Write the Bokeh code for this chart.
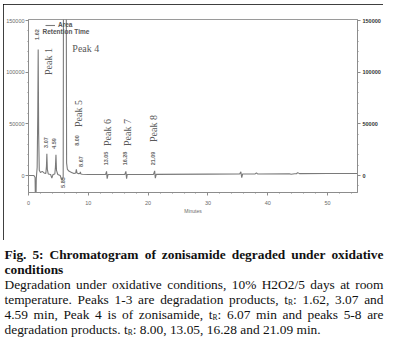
import math
from bokeh.plotting import figure
from bokeh.models import (Range1d, LinearAxis, Label, FixedTicker,
                          NumeralTickFormatter, ColumnDataSource, Legend, LegendItem)
from bokeh.embed import file_html
from bokeh.resources import INLINE
from bokeh.core.properties import value

# ---------------- data ----------------
trace_points = [
    (0.0, 0), (0.9, 0), (1.1, -2000), (1.2, -45000), (1.3, -3000), (1.45, 8000),
    (1.55, 60000), (1.62, 122000), (1.7, 40000), (1.8, 5000), (2.0, 3000),
    (2.3, 4000), (2.6, 2500), (2.9, 2000), (3.0, 9000), (3.07, 21000),
    (3.15, 6000), (3.3, 1500), (3.7, 1000), (3.9, -2500), (4.1, 1000),
    (4.4, 1500), (4.5, 8000), (4.59, 20000), (4.68, 5000), (4.9, 1000),
    (5.3, 0), (5.5, -3500), (5.65, -4500), (5.8, -1000), (5.88, 300000),
    (6.07, 600000), (6.27, 300000), (6.37, 12000), (6.5, 6000), (6.8, 4000),
    (7.2, 3000), (7.6, 2000), (7.9, 2500), (8.0, 6000), (8.1, 2500),
    (8.4, 1800), (8.6, 2000), (8.67, 3500), (8.75, 1500), (9.0, 1200),
    (10.0, 1000), (12.9, 1000), (13.05, 4000), (13.15, -3000), (13.3, 1000),
    (16.1, 1000), (16.28, 4000), (16.4, -3000), (16.5, 1000), (20.9, 1100),
    (21.09, 4500), (21.2, -2500), (21.35, 1100), (30.0, 1300), (35.3, 1500),
    (35.5, 3500), (35.65, -2000), (35.8, 1500), (36.0, 1500), (37.9, 1500),
    (38.1, 2500), (38.3, 1500), (43.6, 1700), (43.9, 1200), (44.5, 1700),
    (44.8, 1700), (45.0, 2800), (45.3, 1800), (50.0, 1900), (55.0, 2000),
]
trace_t = [pt[0] for pt in trace_points]
trace_v = [pt[1] for pt in trace_points]

rt_times = [1.62, 3.07, 4.59, 5.83, 8.00, 8.67, 13.05, 16.28, 21.09]
rt_label_x = [1.5, 3.0, 4.33, 5.83, 8.17, 8.83, 13.0, 16.17, 20.83]
rt_label_y = [136400, 31900, 31000, -6800, 33900, 13500, 16500, 16500, 16500]

peak_v_names = ["Peak 1", "Peak 5", "Peak 6", "Peak 7", "Peak 8"]
peak_v_x = [3.33, 8.42, 13.17, 16.5, 20.83]
peak_v_y = [110300, 60000, 41600, 41600, 45500]
peak_h_names = ["Peak 4"]
peak_h_x = [7.33]
peak_h_y = [122900]

x_ticks = [0, 10, 20, 30, 40, 50]
y_ticks = [0, 50000, 100000, 150000]

caption_lines = [
    ("b", True, "Fig. 5: Chromatogram of zonisamide degraded under oxidative"),
    ("b", False, "conditions"),
    ("n", True, "Degradation under oxidative conditions, 10% H2O2/5 days at room"),
    ("n", True, "temperature. Peaks 1-3 are degradation products, t_R: 1.62, 3.07 and"),
    ("n", True, "4.59 min, Peak 4 is of zonisamide, t_R: 6.07 min and peaks 5-8 are"),
    ("n", False, "degradation products. t_R: 8.00, 13.05, 16.28 and 21.09 min."),
]

# ---------------- chart figure ----------------
p = figure(width=380, height=236, output_backend="svg", toolbar_location=None,
           x_range=Range1d(0, 55), y_range=Range1d(-16450, 150970),
           min_border_left=25, min_border_right=25, min_border_top=15,
           min_border_bottom=48, background_fill_color="white",
           border_fill_color="white", margin=(4, 0, 0, 3), sizing_mode="fixed",
           styles={"outline": "1.4px solid #000000", "outline-offset": "-1.4px"})
p.xgrid.visible = False
p.ygrid.visible = False
p.outline_line_color = "#9a9a9a"
p.outline_line_width = 1

AX = "#8c8c8c"
def style_axis(ax, label_color="#6a6a6a", bold=False):
    ax.axis_line_color = AX
    ax.major_tick_line_color = AX
    ax.minor_tick_line_color = AX
    ax.major_tick_out = 3
    ax.major_tick_in = 0
    ax.minor_tick_out = 1
    ax.minor_tick_in = 0
    ax.major_label_text_font = "Liberation Sans"
    ax.major_label_text_font_size = "5.5px"
    ax.major_label_text_color = label_color
    ax.major_label_text_font_style = "bold" if bold else "normal"
    ax.major_label_standoff = 1

xax = p.xaxis[0]
xax.ticker = FixedTicker(ticks=x_ticks, minor_ticks=list(range(0, 56, 2)))
style_axis(xax)
xax.major_label_standoff = 5
xax.axis_label = "Minutes"
xax.axis_label_text_font = "Liberation Sans"
xax.axis_label_text_font_size = "5px"
xax.axis_label_text_font_style = "normal"
xax.axis_label_text_color = "#6a6a6a"
xax.axis_label_standoff = 0

yax = p.yaxis[0]
yax.ticker = FixedTicker(ticks=y_ticks, minor_ticks=list(range(-10000, 151000, 10000)))
yax.formatter = NumeralTickFormatter(format="0")
style_axis(yax)

rax = LinearAxis(ticker=FixedTicker(ticks=y_ticks, minor_ticks=list(range(-10000, 151000, 10000))),
                 formatter=NumeralTickFormatter(format="0"))
style_axis(rax, label_color="#303030", bold=True)
rax.major_label_standoff = 2
p.add_layout(rax, "right")

# chromatogram trace
src = ColumnDataSource(dict(t=trace_t, v=trace_v))
trace_r = p.line("t", "v", source=src, line_color="#7a7a7a", line_width=1.1)

# retention time labels
rt_src = ColumnDataSource(dict(x=rt_label_x, y=rt_label_y,
                               txt=["%.2f" % t for t in rt_times]))
p.text("x", "y", text="txt", source=rt_src, angle=math.pi / 2,
       text_align="center", text_baseline="middle",
       text_font=value("Liberation Sans"), text_font_size="5.5px",
       text_font_style="bold", text_color="#6a6a6a")

# peak name labels
pv_src = ColumnDataSource(dict(x=peak_v_x, y=peak_v_y, txt=peak_v_names))
p.text("x", "y", text="txt", source=pv_src, angle=math.pi / 2,
       text_align="center", text_baseline="middle",
       text_font=value("Liberation Serif"), text_font_size="10px",
       text_color="#5a5a5a")
ph_src = ColumnDataSource(dict(x=peak_h_x, y=peak_h_y, txt=peak_h_names))
p.text("x", "y", text="txt", source=ph_src,
       text_align="left", text_baseline="middle",
       text_font=value("Liberation Serif"), text_font_size="10px",
       text_color="#5a5a5a")

# legend
legend = Legend(items=[LegendItem(label="Area", renderers=[trace_r])],
                location=(17, 164), padding=0, margin=0,
                border_line_alpha=0, background_fill_alpha=0,
                glyph_width=10, glyph_height=6, label_height=6,
                label_standoff=3, label_text_font="Liberation Sans",
                label_text_font_size="6.5px", label_text_font_style="bold",
                label_text_color="#555555")
p.add_layout(legend)
p.add_layout(Label(x=39, y=27, x_units="canvas", y_units="canvas",
                   text="Retention Time", text_font="Liberation Sans",
                   text_font_size="6.5px", text_font_style="bold",
                   text_color="#555555", text_baseline="middle"))

# ---------------- caption figure (separate root, frame = whole canvas) ----------------
CAP_TOP, CAP_BOT, CAP_W = 240, 344, 390
c = figure(width=CAP_W, height=CAP_BOT - CAP_TOP, output_backend="svg", toolbar_location=None,
           x_range=Range1d(0, CAP_W), y_range=Range1d(CAP_BOT, CAP_TOP),
           x_axis_location=None, y_axis_location=None, sizing_mode="fixed",
           min_border_left=0, min_border_right=0, min_border_top=0, min_border_bottom=0,
           background_fill_color="white", border_fill_color="white")
c.xgrid.visible = False
c.ygrid.visible = False
c.outline_line_color = None

W_REG = {' ': 250, '%': 833, ',': 250, '-': 333, '.': 250, '/': 278, ':': 278,
         'A': 722, 'B': 667, 'C': 667, 'D': 722, 'E': 611, 'F': 556, 'G': 722,
         'H': 722, 'I': 333, 'J': 389, 'K': 722, 'L': 611, 'M': 889, 'N': 722,
         'O': 722, 'P': 556, 'Q': 722, 'R': 667, 'S': 556, 'T': 611, 'U': 722,
         'a': 444, 'b': 500, 'c': 444, 'd': 500, 'e': 444, 'f': 333, 'g': 500,
         'h': 500, 'i': 278, 'j': 278, 'k': 500, 'l': 278, 'm': 778, 'n': 500,
         'o': 500, 'p': 500, 'q': 500, 'r': 333, 's': 389, 't': 278, 'u': 500,
         'v': 500, 'w': 722, 'x': 500, 'y': 500, 'z': 444}
W_BOLD = {' ': 250, '%': 1000, ',': 250, '-': 333, '.': 250, '/': 278, ':': 333,
          'A': 722, 'C': 722, 'D': 722, 'F': 611, 'H': 778, 'P': 611, 'R': 722,
          'a': 500, 'b': 556, 'c': 444, 'd': 556, 'e': 444, 'f': 333, 'g': 500,
          'h': 556, 'i': 278, 'j': 333, 'k': 556, 'l': 278, 'm': 833, 'n': 556,
          'o': 500, 'p': 556, 'q': 556, 'r': 444, 's': 389, 't': 333, 'u': 556,
          'v': 500, 'w': 722, 'x': 500, 'y': 500, 'z': 444}
FS = 13.4
SUB_FS = 7.5

def seg_w(txt, kind):
    if kind == "s":
        return sum(W_REG.get(ch, 500) for ch in txt) * SUB_FS / 1000.0
    tbl = W_BOLD if kind == "b" else W_REG
    return sum(tbl.get(ch, 500) for ch in txt) * FS / 1000.0

def word_segs(word, kind):
    if "t_R" in word:
        pre, post = word.split("t_R")
        segs = []
        if pre:
            segs.append((pre, kind))
        segs += [("t", kind), ("R", "s")]
        if post:
            segs.append((post, kind))
        return segs
    return [(word, kind)]

CAP_LEFT, CAP_RIGHT = 4.0, 383.0
base0, lead = 254, 15
groups = {"n": dict(x=[], y=[], t=[]), "b": dict(x=[], y=[], t=[]), "s": dict(x=[], y=[], t=[])}
for i, (kind, justify, line) in enumerate(caption_lines):
    words = [word_segs(w, kind) for w in line.split(" ")]
    widths = [sum(seg_w(s, k) for s, k in ws) for ws in words]
    if justify and len(words) > 1:
        gap = (CAP_RIGHT - CAP_LEFT - sum(widths)) / (len(words) - 1)
    else:
        gap = W_REG[' '] * FS / 1000.0
    x = CAP_LEFT
    yb = base0 + lead * i
    for ws, wd in zip(words, widths):
        xx = x
        for s, k in ws:
            g = groups[k]
            g["x"].append(xx)
            g["y"].append(yb + (3 if k == "s" else 0))
            g["t"].append(s)
            xx += seg_w(s, k)
        x += wd + gap

for k, g in groups.items():
    c.text("x", "y", text="t", source=ColumnDataSource(g),
           text_font=value("Liberation Serif"),
           text_font_size="%.1fpx" % (SUB_FS if k == "s" else FS),
           text_font_style="bold" if k == "b" else "normal",
           text_color="#111111", text_baseline="alphabetic", text_align="left")

open("out.html", "w").write(file_html([p, c], INLINE))
